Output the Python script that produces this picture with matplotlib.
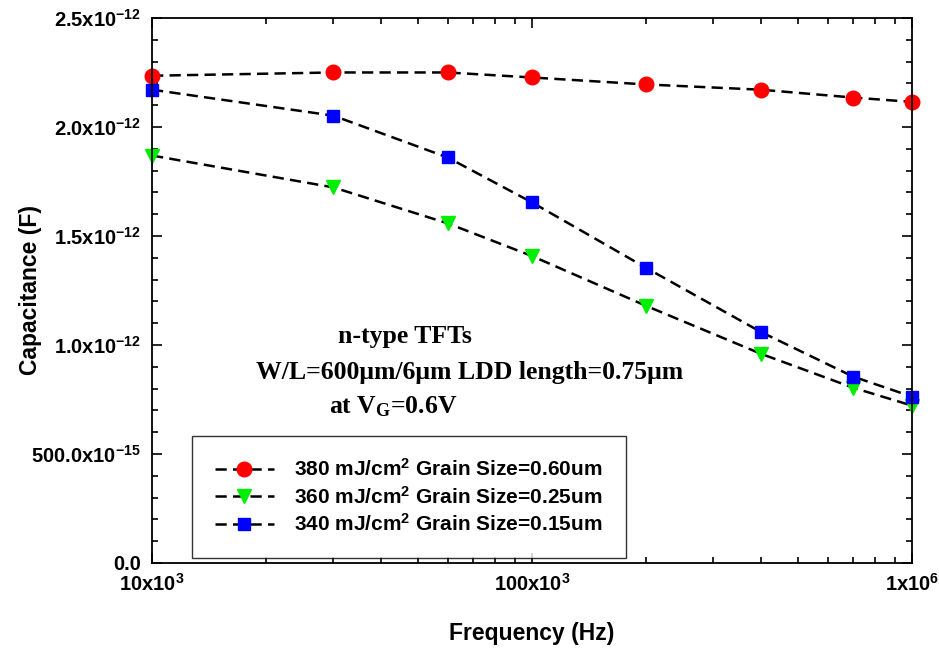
import numpy as np
import matplotlib
matplotlib.use("Agg")
import matplotlib.pyplot as plt
from matplotlib.ticker import FixedLocator, FixedFormatter, LogLocator, NullFormatter

plt.rcParams["font.family"] = ["Liberation Sans", "DejaVu Sans"]
plt.rcParams["font.weight"] = "bold"
plt.rcParams["mathtext.fontset"] = "custom"
plt.rcParams["mathtext.rm"] = "Liberation Serif:bold"
plt.rcParams["mathtext.sf"] = "Liberation Sans:bold"
plt.rcParams["mathtext.default"] = "rm"

# ------------ data ------------
freq = [1e4, 3e4, 6e4, 1e5, 2e5, 4e5, 7e5, 1e6]
cap_380 = [2.235e-12, 2.250e-12, 2.250e-12, 2.227e-12, 2.195e-12, 2.171e-12, 2.135e-12, 2.115e-12]
cap_360 = [1.869e-12, 1.723e-12, 1.558e-12, 1.408e-12, 1.179e-12, 0.960e-12, 0.804e-12, 0.722e-12]
cap_340 = [2.171e-12, 2.052e-12, 1.860e-12, 1.654e-12, 1.353e-12, 1.060e-12, 0.855e-12, 0.763e-12]

labels = [r"380 mJ/cm$^{\mathsf{2}}$ Grain Size=0.60um",
          r"360 mJ/cm$^{\mathsf{2}}$ Grain Size=0.25um",
          r"340 mJ/cm$^{\mathsf{2}}$ Grain Size=0.15um"]

y_ticks = [0.0, 0.5e-12, 1.0e-12, 1.5e-12, 2.0e-12, 2.5e-12]
y_tick_labels = ["0.0",
                 r"500.0x10$^{\mathsf{-15}}$",
                 r"1.0x10$^{\mathsf{-12}}$",
                 r"1.5x10$^{\mathsf{-12}}$",
                 r"2.0x10$^{\mathsf{-12}}$",
                 r"2.5x10$^{\mathsf{-12}}$"]
x_ticks = [1e4, 1e5, 1e6]
x_tick_labels = [r"10x10$^{\mathsf{3}}$", r"100x10$^{\mathsf{3}}$", r"1x10$^{\mathsf{6}}$"]

# ------------ plot ------------
fig = plt.figure(figsize=(9.39, 6.51), dpi=100)
ax = fig.add_axes([0.1619, 0.1352, 0.8093, 0.8372])

line_kw = dict(color="black", linestyle=(0, (4.5, 2.5)), linewidth=1.8, clip_on=False)
ax.plot(freq, cap_380, marker="o", markersize=10.5, markerfacecolor="red",
        markeredgecolor="red", label=labels[0], **line_kw)
ax.plot(freq, cap_360, marker="v", markersize=10.5, markerfacecolor="#00ee00",
        markeredgecolor="#00ee00", label=labels[1], **line_kw)
ax.plot(freq, cap_340, marker="s", markersize=9, markerfacecolor="blue",
        markeredgecolor="blue", label=labels[2], **line_kw)

ax.set_xscale("log")
ax.set_xlim(1e4, 1e6)
ax.set_ylim(0, 2.5e-12)

ax.xaxis.set_major_locator(FixedLocator(x_ticks))
ax.xaxis.set_major_formatter(FixedFormatter(x_tick_labels))
ax.xaxis.set_minor_locator(LogLocator(base=10, subs=np.arange(2, 10)))
ax.xaxis.set_minor_formatter(NullFormatter())

ax.yaxis.set_major_locator(FixedLocator(y_ticks))
ax.yaxis.set_major_formatter(FixedFormatter(y_tick_labels))
ax.yaxis.set_minor_locator(FixedLocator(np.arange(0, 2.5e-12, 0.1e-12)))

ax.tick_params(which="both", direction="in", top=True, right=True, width=1.2)
ax.tick_params(which="major", length=7, labelsize=14.5, pad=8)
ax.tick_params(which="minor", length=4)
for s in ax.spines.values():
    s.set_linewidth(1.3)

ax.set_xlabel("Frequency (Hz)", fontsize=16.5, fontweight="bold")
ax.set_ylabel("Capacitance (F)", fontsize=16.5, fontweight="bold")
ax.xaxis.set_label_coords(0.5, -0.108)
ax.yaxis.set_label_coords(-0.145, 0.5)

serif = dict(family="Liberation Serif", fontweight="bold", fontsize=18.5,
             ha="center", va="center", transform=ax.transAxes)
ax.text(0.333, 0.415, "n-type TFTs", **serif)
ax.text(0.418, 0.350, "W/L=600\u03bcm/6\u03bcm LDD length=0.75\u03bcm", **serif)
ax.text(0.318, 0.287, r"at V$_{G}$=0.6V", **serif)

leg = ax.legend(loc="lower left", bbox_to_anchor=(0.053, 0.009), fontsize=15,
                frameon=True, fancybox=False, edgecolor="black", handlelength=2.8,
                borderpad=1.1, labelspacing=0.3, handletextpad=1.0, borderaxespad=0)
leg.get_frame().set_linewidth(1.0)
for t in leg.get_texts():
    t.set_fontweight("bold")

fig.savefig("out.png", dpi=100)
